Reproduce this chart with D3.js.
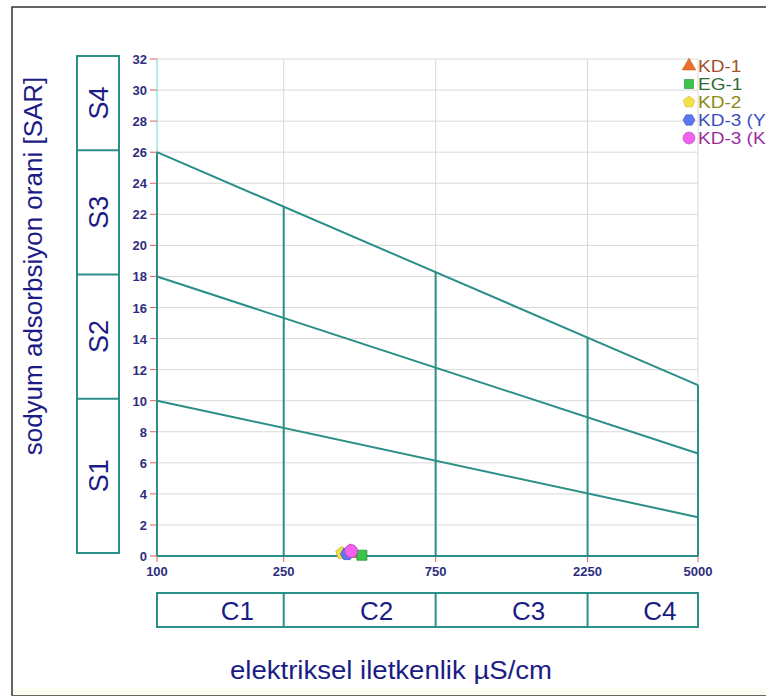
<!DOCTYPE html>
<html><head><meta charset="utf-8">
<script src="https://cdn.jsdelivr.net/npm/d3@7"></script>
<style>html,body{margin:0;padding:0;background:#fff;overflow:hidden}</style>
</head><body>
<svg id="c" width="766" height="698"></svg>
<script>
// ---- data ----
const xTicks = [100, 250, 750, 2250, 5000];
const yTicks = [0,2,4,6,8,10,12,14,16,18,20,22,24,26,28,30,32];
const sBoundStart = [10, 18, 26];      // SAR at 100 µS/cm
const sBoundEnd = [2.5, 6.6, 11];      // SAR at 5000 µS/cm
const cDividerTop = [22.5, 18.3, 14.1, 11]; // vertical lines at 250,750,2250,5000
const sClasses = ["S1","S2","S3","S4"];
const sEdges = [0, 10, 18, 26, 32];
const cClasses = ["C1","C2","C3","C4"];
const seriesNames = ["KD-1","EG-1","KD-2","KD-3 (Y","KD-3 (K"];
const seriesEC = [404, 440, 381, 395, 407];
const seriesSAR = [0.2, 0.05, 0.19, 0.13, 0.32];
const seriesFill = ["#e8702a","#3cc44a","#f4e04a","#5b78ee","#f062ee"];
const seriesStroke = ["#c05a20","#2a8a35","#c8b830","#3a56c8","#c040c0"];
const seriesText = ["#a0522d","#2f6b30","#8a8a10","#3a4cc0","#9a2d9a"];
const seriesShape = ["triangle","square","pentagon","hexagon","circle"];

const svg = d3.select("#c");
const x = d3.scaleLog().domain([100, 5000]).range([157, 698]);
const y = d3.scaleLinear().domain([0, 32]).range([556, 59]);
const teal = "#2a8f86", navy = "#1c1c86", tickCol = "#2e2e7e";
const font = "Liberation Sans, Arial, sans-serif";

// outer border
svg.append("rect").attr("x",12).attr("y",7).attr("width",800).attr("height",688)
  .attr("fill","none").attr("stroke","#333").attr("stroke-width",1.5);
svg.append("rect").attr("x",13).attr("y",688).attr("width",760).attr("height",7).attr("fill","#fdfdf2");

// gridlines
svg.append("g").selectAll("line").data(yTicks.filter(d=>d>0)).join("line")
  .attr("x1",x(100)).attr("x2",x(5000)).attr("y1",d=>y(d)).attr("y2",d=>y(d))
  .attr("stroke","#d9d9d9").attr("stroke-width",1);
svg.append("g").selectAll("line").data(xTicks.slice(1)).join("line")
  .attr("x1",d=>x(d)).attr("x2",d=>x(d)).attr("y1",y(32)).attr("y2",y(0))
  .attr("stroke","#d9d9d9").attr("stroke-width",1);

// light cyan y axis
svg.append("line").attr("x1",x(100)).attr("x2",x(100)).attr("y1",y(32)).attr("y2",y(0))
  .attr("stroke","#80e0e0").attr("stroke-width",1.2);

// ticks (red)
svg.append("g").selectAll("line").data(yTicks).join("line")
  .attr("x1",x(100)-7).attr("x2",x(100)).attr("y1",d=>y(d)).attr("y2",d=>y(d))
  .attr("stroke","#e06060").attr("stroke-width",1);
svg.append("g").selectAll("line").data(xTicks).join("line")
  .attr("x1",d=>x(d)).attr("x2",d=>x(d)).attr("y1",y(0)).attr("y2",y(0)+6)
  .attr("stroke","#e06060").attr("stroke-width",1);

// tick labels
svg.append("g").selectAll("text").data(yTicks).join("text")
  .attr("x",x(100)-10).attr("y",d=>y(d)+5).attr("text-anchor","end")
  .attr("font-family",font).attr("font-size",13).attr("font-weight","bold")
  .attr("fill",tickCol).text(d=>d);
svg.append("g").selectAll("text").data(xTicks).join("text")
  .attr("x",d=>x(d)).attr("y",y(0)+20).attr("text-anchor","middle")
  .attr("font-family",font).attr("font-size",13).attr("font-weight","bold")
  .attr("fill",tickCol).text(d=>d);

// classification lines
const cl = svg.append("g").attr("stroke",teal).attr("stroke-width",2).attr("fill","none");
sBoundStart.forEach((s,i)=>{
  cl.append("line").attr("x1",x(100)).attr("y1",y(s)).attr("x2",x(5000)).attr("y2",y(sBoundEnd[i]));
});
cl.append("line").attr("x1",x(100)).attr("x2",x(100)).attr("y1",y(0)).attr("y2",y(sBoundStart[2]));
xTicks.slice(1).forEach((v,i)=>{
  cl.append("line").attr("x1",x(v)).attr("x2",x(v)).attr("y1",y(0)).attr("y2",y(cDividerTop[i]));
});
cl.append("line").attr("x1",x(100)).attr("x2",x(5000)).attr("y1",y(0)).attr("y2",y(0));

// S boxes
const sb = svg.append("g");
sb.append("rect").attr("x",77).attr("y",y(32)-3).attr("width",42).attr("height",y(0)-3-(y(32)-3))
  .attr("fill","none").attr("stroke",teal).attr("stroke-width",2);
sEdges.slice(1,4).forEach(v=>{
  sb.append("line").attr("x1",77).attr("x2",119).attr("y1",y(v)-2).attr("y2",y(v)-2)
    .attr("stroke",teal).attr("stroke-width",2);
});
sClasses.forEach((s,i)=>{
  const top = i===3 ? y(32)-3 : y(sEdges[i+1])-2;
  const bot = i===0 ? y(0)-3 : y(sEdges[i])-2;
  const cy = (top+bot)/2;
  sb.append("text").attr("transform",`translate(${108},${cy}) rotate(-90)`)
    .attr("text-anchor","middle").attr("font-family",font)
    .attr("font-size",27).attr("fill",navy).text(s);
});

// C boxes
const cb = svg.append("g");
cb.append("rect").attr("x",x(100)).attr("y",593).attr("width",x(5000)-x(100)).attr("height",34)
  .attr("fill","none").attr("stroke",teal).attr("stroke-width",2);
xTicks.slice(1,4).forEach(v=>{
  cb.append("line").attr("x1",x(v)).attr("x2",x(v)).attr("y1",593).attr("y2",627)
    .attr("stroke",teal).attr("stroke-width",2);
});
cClasses.forEach((c,i)=>{
  const cx = (x(xTicks[i])+x(xTicks[i+1]))/2 + 17;
  cb.append("text").attr("x",cx).attr("y",620).attr("text-anchor","middle")
    .attr("font-family",font).attr("font-size",26).attr("fill",navy).text(c);
});

// axis titles
svg.append("text").attr("transform","translate(42,266) rotate(-90)").attr("text-anchor","middle")
  .attr("font-family",font).attr("font-size",26).attr("fill",navy)
  .text("sodyum adsorbsiyon orani [SAR]");
svg.append("text").attr("transform","translate(391,679) scale(1.06,1)").attr("text-anchor","middle")
  .attr("font-family",font).attr("font-size",26).attr("fill",navy)
  .text("elektriksel iletkenlik µS/cm");

// marker shapes
function shapePath(shape, r){
  if(shape==="circle") return d3.symbol(d3.symbolCircle, Math.PI*r*r)();
  if(shape==="square") return `M${-r},${-r}H${r}V${r}H${-r}Z`;
  if(shape==="triangle") return d3.symbol(d3.symbolTriangle, r*r*2.2)();
  const n = shape==="pentagon"?5:6;
  const off = shape==="pentagon"? -Math.PI/2 : 0;
  const pts = d3.range(n).map(k=>[r*Math.cos(off+2*Math.PI*k/n), r*Math.sin(off+2*Math.PI*k/n)]);
  return "M"+pts.map(p=>p.join(",")).join("L")+"Z";
}
const sizes = {circle:6.5, square:5, triangle:7, pentagon:6.5, hexagon:6.5};

// data points
svg.append("g").selectAll("path").data(seriesNames).join("path")
  .attr("transform",(d,i)=>`translate(${x(seriesEC[i])},${y(seriesSAR[i])})`)
  .attr("d",(d,i)=>shapePath(seriesShape[i], sizes[seriesShape[i]]))
  .attr("fill",(d,i)=>seriesFill[i]).attr("stroke",(d,i)=>seriesStroke[i]).attr("stroke-width",0.8);

// legend
const lg = svg.append("g");
seriesNames.forEach((n,i)=>{
  const ly = 66 + i*18;
  lg.append("path").attr("transform",`translate(689,${ly})`)
    .attr("d",shapePath(seriesShape[i], seriesShape[i]==="square"?4.5:6))
    .attr("fill",seriesFill[i]).attr("stroke",seriesStroke[i]).attr("stroke-width",0.6);
  lg.append("text").attr("transform",`translate(698,${ly+6}) scale(1.12,1)`).attr("font-family",font)
    .attr("font-size",17).attr("fill",seriesText[i]).text(n);
});
</script>
</body></html>
